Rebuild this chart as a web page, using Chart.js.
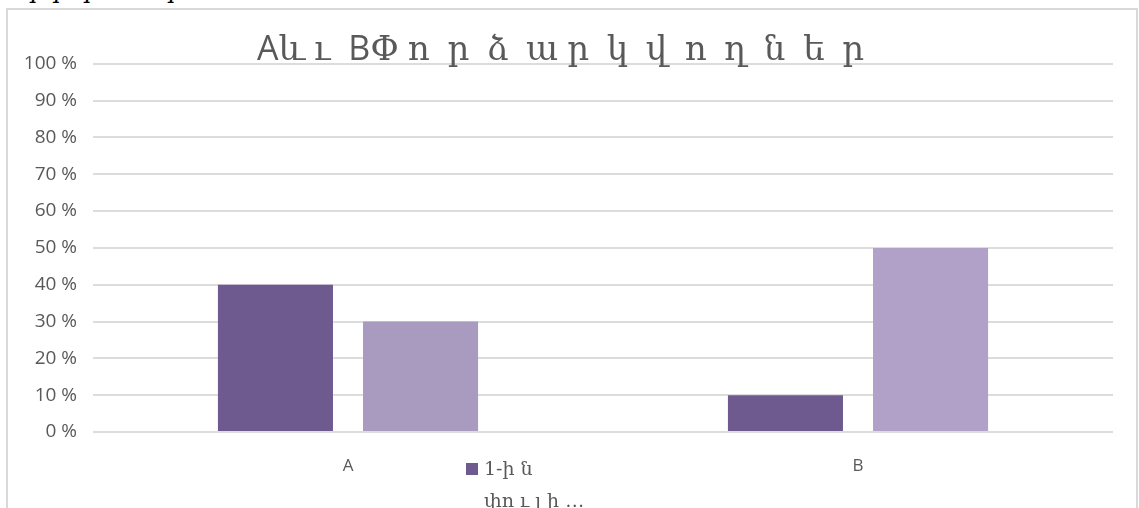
<!DOCTYPE html>
<html>
<head>
<meta charset="utf-8">
<script src="https://cdn.jsdelivr.net/npm/chart.js@4/dist/chart.umd.min.js"></script>
<style>
  body { margin: 0; background: #fff; overflow: hidden; width: 1139px; height: 508px; position: relative; }
  #topline { position: absolute; left: -8px; top: -24px; font: italic 24px "DejaVu Serif"; white-space: pre; color: #000; }
  #frame { position: absolute; left: 6px; top: 8px; width: 1132px; height: 540px; border: 2px solid #d9d9d9; box-sizing: border-box; }
  #wrap { position: absolute; left: 8px; top: 10px; }
  #legend { position: absolute; left: 466px; top: 452px; font: 19px "DejaVu Serif"; color: #595959; line-height: 32px; }
  #legend .box { display: inline-block; width: 12px; height: 12px; background: #6f5a8f; margin-right: 6px; vertical-align: 0px; }
  #legend .l2 { padding-left: 18px; }
</style>
</head>
<body>
<div id="topline">ր   ր ր  ր         ր</div>
<div id="frame"></div>
<div id="wrap"><canvas id="chart" width="1128" height="540"></canvas></div>
<div id="legend"><span class="box"></span>1-ի ն<div class="l2">փո ւ լ ի …</div></div>

<script>
// դիագրամի տվյալներ
var categories = ['A', 'B'];
var series1 = [40, 10];
var series2 = [30, 50];
var seriesNames = ['1-ին փուլի …', '2-րդ փուլի …'];
var yTicks = [0, 10, 20, 30, 40, 50, 60, 70, 80, 90, 100];
var chartTitle = 'Aև ւ  BՓ ո  ր  ձ  ա ր  կ  վ  ո  ղ  ն  ե  ր';

var dark = '#6f5a8f';
var light = ['#a99abf', '#b1a1c8'];

var mydata = {
  labels: categories,
  datasets: [
    {
      label: seriesNames[0],
      data: series1,
      backgroundColor: dark,
      categoryPercentage: 0.569,
      barPercentage: 0.793
    },
    {
      label: seriesNames[1],
      data: series2,
      backgroundColor: light,
      categoryPercentage: 0.569,
      barPercentage: 0.793
    }
  ]
};

var options = {
  responsive: false,
  animation: false,
  layout: { padding: { left: 0, right: 23, top: 0, bottom: 0 } },
  plugins: {
    legend: { display: false },
    tooltip: { enabled: false },
    title: {
      display: true,
      text: chartTitle,
      color: '#595959',
      font: { family: '"Open Sans", "DejaVu Serif"', size: 34, weight: 'normal' },
      padding: { top: 20, bottom: -7 }
    }
  },
  scales: {
    x: {
      grid: { display: false },
      border: { display: false },
      ticks: { color: '#595959', font: { family: '"Open Sans"', size: 17 }, padding: 16 },
      afterFit: function(scale) { scale.height = 118; }
    },
    y: {
      min: 0,
      max: 100,
      afterBuildTicks: function(scale) {
        scale.ticks = yTicks.map(function(v) { return { value: v }; });
      },
      grid: { color: '#dcdcdc', lineWidth: 2, drawTicks: false },
      border: { display: false },
      ticks: {
        color: '#595959',
        font: { family: '"Open Sans"', size: 19 },
        padding: 16,
        callback: function(v) { return v + ' %'; }
      },
      afterFit: function(scale) { scale.width = 85; }
    }
  }
};

var ctx = document.getElementById('chart');
var myChart = new Chart(ctx, {
  type: 'bar',
  data: mydata,
  options: options
});
</script>
</body>
</html>
